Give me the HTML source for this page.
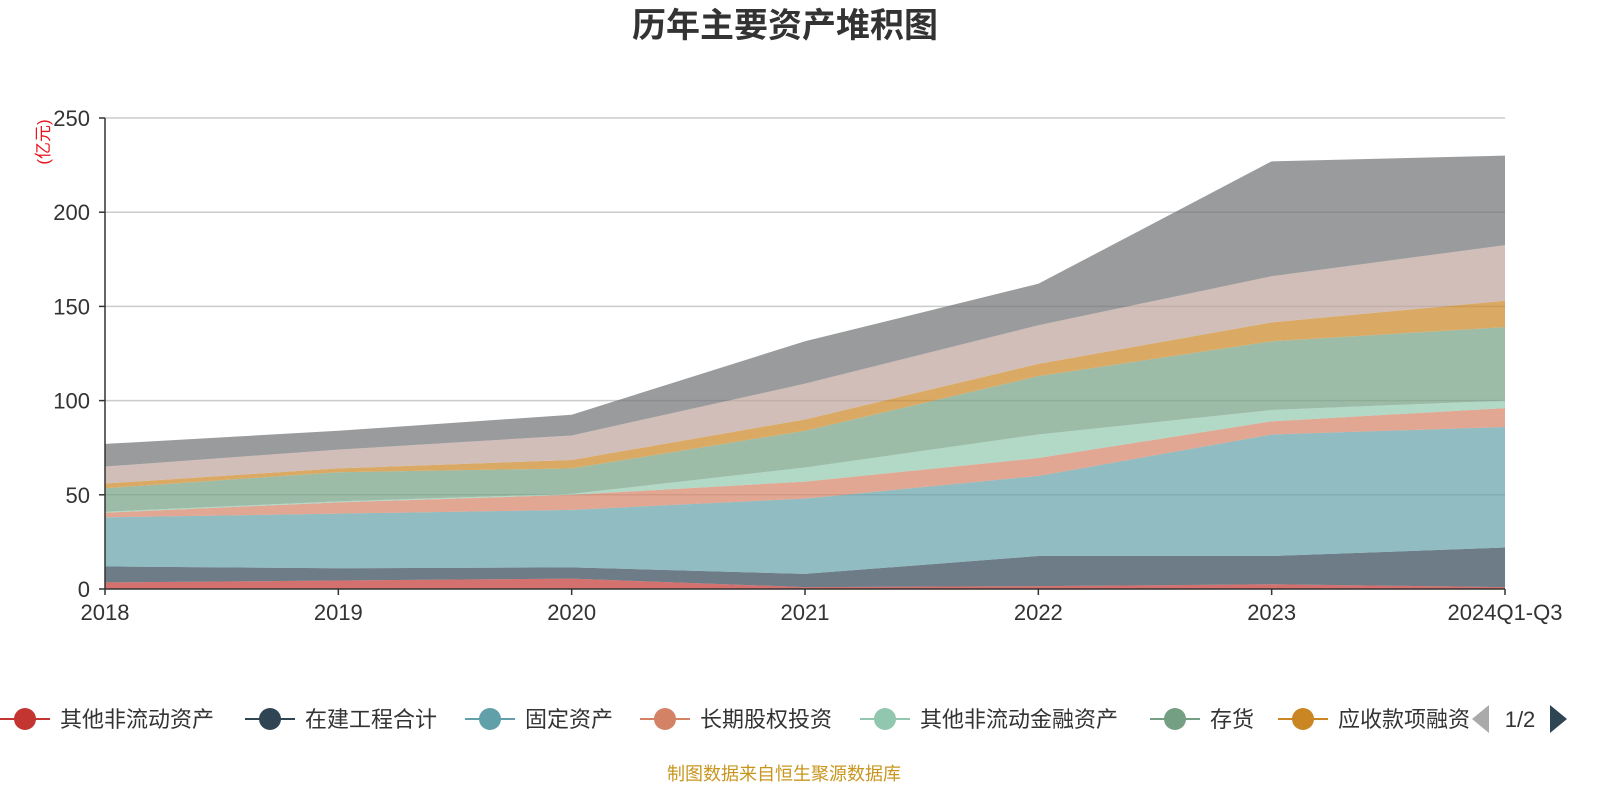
<!DOCTYPE html>
<html><head><meta charset="utf-8">
<style>
body{margin:0;background:#fff;width:1600px;height:800px;overflow:hidden;font-family:"Liberation Sans","Noto Sans CJK SC",sans-serif;}
svg text{font-family:"Liberation Sans","Noto Sans CJK SC",sans-serif;}
</style></head>
<body>
<svg id="chart" width="1600" height="800">
<text x="785" y="37" text-anchor="middle" font-size="34" font-weight="bold" fill="#333">历年主要资产堆积图</text>
<text transform="translate(49,142) rotate(-90)" text-anchor="middle" font-size="17" fill="#e6151e">(亿元)</text>
<g id="grid"></g><g id="areas"></g><g id="axes"></g><g id="legend"></g>
<text x="784" y="780" text-anchor="middle" font-size="18" fill="#c8961e">制图数据来自恒生聚源数据库</text>
</svg>
<script>
const categories=["2018","2019","2020","2021","2022","2023","2024Q1-Q3"];
const seriesNames=["其他非流动资产","在建工程合计","固定资产","长期股权投资","其他非流动金融资产","存货","应收款项融资","应收账款","货币资金"];
const sRed=[3.5,4.5,5.5,1,1.5,2.5,1];
const sDark=[8.5,6.5,6,7,16,15,21];
const sTeal=[26,29,30.5,40,42.5,64.5,64];
const sSalmon=[2.5,6,8,9,9.5,7,10];
const sLightGreen=[0.5,0.5,0.5,7.5,12.5,6,4];
const sGreen=[12.5,15.5,13.5,19.5,31,36.5,39];
const sOrange=[2.5,2,4.5,6,6.5,10,14];
const sBrown=[9,10,13,19,20.5,24.5,29.5];
const sGray=[12,10,11,22.5,22,61,47.5];
const yTicks=[0,50,100,150,200,250];
const series=[sRed,sDark,sTeal,sSalmon,sLightGreen,sGreen,sOrange,sBrown,sGray];
const colors=["#c23531","#2f4554","#61a0a8","#d48265","#91c7ae","#749f83","#ca8622","#bda29a","#6e7074"];
const NS="http://www.w3.org/2000/svg";
const X0=105,X1=1505,Y0=589,Y1=118;
const xs=i=>X0+(X1-X0)*i/(categories.length-1);
const ys=v=>Y0-(Y0-Y1)*v/250;
function mk(t,a,p){const e=document.createElementNS(NS,t);for(const k in a)e.setAttribute(k,a[k]);p.appendChild(e);return e;}
const grid=document.getElementById('grid'),areas=document.getElementById('areas'),axes=document.getElementById('axes'),legend=document.getElementById('legend');
yTicks.forEach(t=>{
 if(t>0){const l=mk('line',{x1:X0,x2:X1,y1:ys(t),y2:ys(t),stroke:'#ccc','stroke-width':1.5},grid);
 
 }
 const tx=mk('text',{x:90,y:ys(t)+8,'text-anchor':'end','font-size':22,fill:'#333'},axes);tx.textContent=t;
 
 
 const tk=mk('line',{x1:X0-6,x2:X0,y1:ys(t),y2:ys(t),stroke:'#333','stroke-width':1.5},axes);
 
 
});
let base=categories.map(()=>0);
series.forEach((s,k)=>{
 const top=base.map((b,i)=>b+s[i]);
 let d='M'+categories.map((c,i)=>xs(i)+','+ys(top[i])).join('L');
 for(let i=categories.length-1;i>=0;i--)d+='L'+xs(i)+','+ys(base[i]);
 const p=mk('path',{d:d+'Z',fill:colors[k],'fill-opacity':0.7},areas);
 
 
 base=top;
});
const ya=mk('line',{x1:X0,x2:X0,y1:Y1,y2:Y0,stroke:'#333','stroke-width':1.5},axes);


const xa=mk('line',{x1:X0,x2:X1,y1:Y0,y2:Y0,stroke:'#333','stroke-width':1.5},axes);


categories.forEach((c,i)=>{
 const tk=mk('line',{x1:xs(i),x2:xs(i),y1:Y0,y2:Y0+6,stroke:'#333','stroke-width':1.5},axes);
 
 
 const t=mk('text',{x:xs(i),y:620,'text-anchor':'middle','font-size':22,fill:'#333'},axes);t.textContent=c;
 
 
});
const legX=[0,245,465,640,860,1150,1278];
for(let k=0;k<7;k++){
 const g=mk('g',{},legend);
 
 
 mk('line',{x1:legX[k],x2:legX[k]+50,y1:719,y2:719,stroke:colors[k],'stroke-width':2},g);
 mk('circle',{cx:legX[k]+25,cy:719,r:11,fill:colors[k]},g);
 const t=mk('text',{x:legX[k]+60,y:727,'font-size':22,fill:'#333'},g);t.textContent=seriesNames[k];
}
const pl=mk('path',{d:'M1472,719L1489,705L1489,733Z',fill:'#aaa'},legend);


const pt=mk('text',{x:1520,y:727,'text-anchor':'middle','font-size':22,fill:'#333'},legend);pt.textContent='1/2';


const pr=mk('path',{d:'M1550,705L1567,719L1550,733Z',fill:'#2f4554'},legend);


</script>
</body></html>
